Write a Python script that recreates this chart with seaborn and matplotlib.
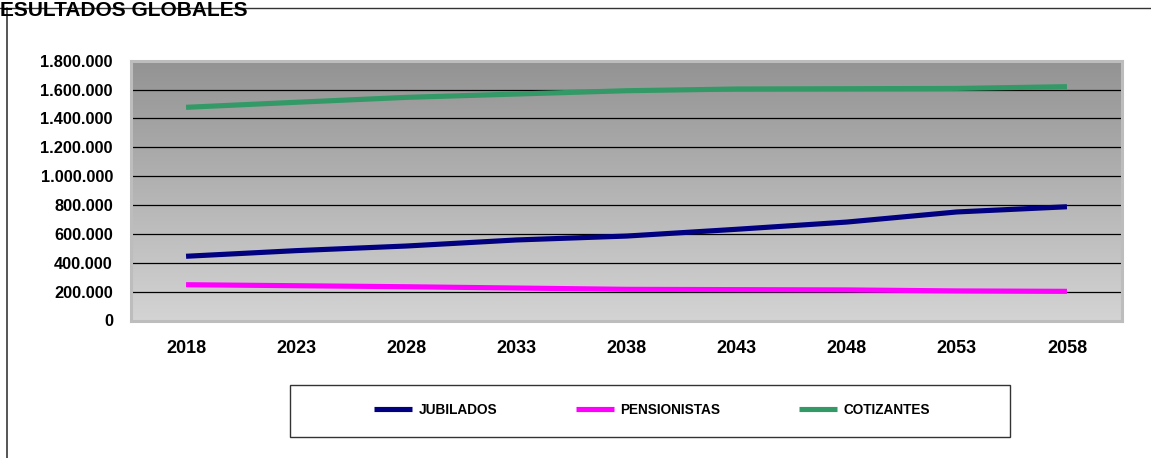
import numpy as np
import pandas as pd
import matplotlib
matplotlib.use("Agg")
import matplotlib.pyplot as plt
from matplotlib.patches import Rectangle
from matplotlib.lines import Line2D
from matplotlib.ticker import FuncFormatter, FixedLocator
from matplotlib.colors import LinearSegmentedColormap
import seaborn as sns

# ---- data ----
years = ["2018", "2023", "2028", "2033", "2038", "2043", "2048", "2053", "2058"]
jubilados = [445000, 484000, 516000, 558000, 585000, 632000, 682000, 752000, 788000]
pensionistas = [248000, 241000, 234000, 225000, 216000, 214000, 212000, 205000, 202000]
cotizantes = [1477000, 1512000, 1546000, 1569000, 1592000, 1604000, 1606000, 1608000, 1620000]
series_names = ["JUBILADOS", "PENSIONISTAS", "COTIZANTES"]
series_colors = ["#000080", "#FF00FF", "#339966"]
y_ticks = [0, 200000, 400000, 600000, 800000, 1000000, 1200000, 1400000, 1600000, 1800000]
title_text = "ESULTADOS GLOBALES"

df = pd.DataFrame({
    "year": years * 3,
    "value": jubilados + pensionistas + cotizantes,
    "serie": [s for s in series_names for _ in years],
})

sns.set_style("white")
plt.rcParams["font.family"] = ["Liberation Sans", "DejaVu Sans"]
plt.rcParams["font.weight"] = "bold"
plt.rcParams["text.color"] = "black"
plt.rcParams["xtick.color"] = "black"
plt.rcParams["ytick.color"] = "black"

W, H = 1151, 458
fig = plt.figure(figsize=(W / 100, H / 100), dpi=100)
fig.patch.set_facecolor("white")

# plot area in pixel coordinates
L, R, T, B = 131, 1122, 60.7, 320.5
ax = fig.add_axes([L / W, 1 - B / H, (R - L) / W, (B - T) / H])

# gradient background
grad = np.linspace(0, 1, 256).reshape(-1, 1)
cmap = LinearSegmentedColormap.from_list("g", ["#939393", "#d4d4d4"])
ax.imshow(grad, cmap=cmap, aspect="auto", extent=[0, 1, 0, 1],
          transform=ax.transAxes, zorder=0, interpolation="bilinear")

palette = dict(zip(series_names, series_colors))
sns.lineplot(data=df, x="year", y="value", hue="serie", palette=palette,
             sort=False, linewidth=3.7, legend=False, ax=ax, zorder=3)
for ln in ax.get_lines():
    ln.set_solid_capstyle("butt")

ax.set_xlim(-0.5, len(years) - 0.5)
ax.set_ylim(0, 1800000)
ax.yaxis.set_major_locator(FixedLocator(y_ticks))
ax.yaxis.set_major_formatter(FuncFormatter(lambda v, p: f"{v:,.0f}".replace(",", ".")))
ax.grid(axis="y", color="black", linewidth=0.9, zorder=1)
ax.grid(axis="x", visible=False)
ax.set_axisbelow(False)
for gl in ax.get_ygridlines():
    gl.set_zorder(1)

ax.set_xlabel("")
ax.set_ylabel("")
ax.tick_params(axis="y", length=0, pad=13, labelsize=11.8)
ax.tick_params(axis="x", which="major", length=0, pad=14, labelsize=13)
ax.xaxis.set_minor_locator(FixedLocator([-0.5, len(years) - 0.5]))
ax.tick_params(axis="x", which="minor", length=4, width=1, color="black", direction="out")
for lbl in ax.get_xticklabels() + ax.get_yticklabels():
    lbl.set_fontweight("bold")

for sp in ax.spines.values():
    sp.set_visible(True)
    sp.set_color("#bdbdbd")
    sp.set_linewidth(2.2)
    sp.set_zorder(4)

# outer frame lines
fig.add_artist(Line2D([0, 1], [1 - 8.3 / H, 1 - 8.3 / H], transform=fig.transFigure,
                      color="#333333", linewidth=1.0))
fig.add_artist(Line2D([7.5 / W, 7.5 / W], [0, 1 - 8.3 / H], transform=fig.transFigure,
                      color="#555555", linewidth=1.4))

# title
fig.text(0.0 / W, 1 - 15.5 / H, title_text, ha="left", va="baseline",
         fontsize=15, fontweight="bold", color="black")

# legend box
fig.add_artist(Rectangle((290 / W, 1 - 437 / H), (1010 - 290) / W, (437 - 385) / H,
                         transform=fig.transFigure, facecolor="white",
                         edgecolor="#333333", linewidth=1.0))
handles = [Line2D([], [], color=c, linewidth=3.7, solid_capstyle="butt") for c in series_colors]
leg = fig.legend(handles, series_names, loc="center", ncol=3,
                 bbox_to_anchor=(652 / W, 1 - 410 / H), frameon=False,
                 prop={"family": "Liberation Sans", "weight": "bold", "size": 9.8},
                 handlelength=2.8, handletextpad=0.45, columnspacing=5.8)

fig.savefig("out.png", dpi=100, facecolor="white")
